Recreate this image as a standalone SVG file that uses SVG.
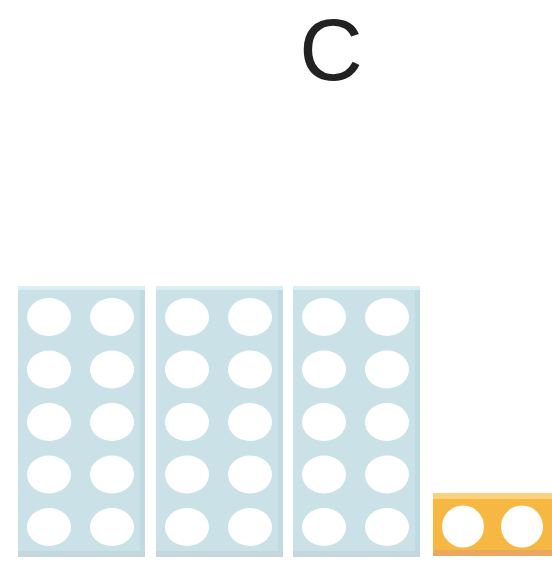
<svg xmlns="http://www.w3.org/2000/svg" width="552" height="564" viewBox="0 0 552 564">
<defs>
<style>
.frame{fill:#C9E1E7}
.ftop{fill:#DDEEF3}
.fbot{fill:#C3D7DD}
.fside{fill:#BFDAE1}
.hole{fill:#FFFFFF}
.ofr{fill:#F6B843}
.otop{fill:#FAD27E}
.obot{fill:#E8A860}
</style>
<g id="ten" >
<rect class="frame" x="0" y="0" width="127" height="271"/>
<rect class="ftop" x="0" y="0" width="127" height="4"/>
<rect class="fside" x="122" y="4" width="5" height="262"/>
<rect class="fbot" x="0" y="265" width="127" height="6"/>
<ellipse class="hole" cx="31" cy="31" rx="22" ry="19"/>
<ellipse class="hole" cx="94" cy="31" rx="22" ry="19"/>
<ellipse class="hole" cx="31" cy="83.5" rx="22" ry="19"/>
<ellipse class="hole" cx="94" cy="83.5" rx="22" ry="19"/>
<ellipse class="hole" cx="31" cy="136" rx="22" ry="19"/>
<ellipse class="hole" cx="94" cy="136" rx="22" ry="19"/>
<ellipse class="hole" cx="31" cy="188.5" rx="22" ry="19"/>
<ellipse class="hole" cx="94" cy="188.5" rx="22" ry="19"/>
<ellipse class="hole" cx="31" cy="241" rx="22" ry="19"/>
<ellipse class="hole" cx="94" cy="241" rx="22" ry="19"/>
</g>
</defs>
<g id="label">
<text x="331" y="80" font-family="Liberation Sans, Arial, sans-serif" font-size="88" fill="#222222" text-anchor="middle">C</text>
</g>
<g id="ten-frame-1"><use href="#ten" x="18" y="286"/></g>
<g id="ten-frame-2"><use href="#ten" x="156" y="286"/></g>
<g id="ten-frame-3"><use href="#ten" x="293" y="286"/></g>
<g id="two-block">
<rect class="ofr" x="433" y="493" width="119" height="63"/>
<rect class="otop" x="433" y="493" width="119" height="6"/>
<rect class="obot" x="433" y="550" width="119" height="6"/>
<circle class="hole" cx="463" cy="526.5" r="21"/>
<circle class="hole" cx="522" cy="526.5" r="21"/>
</g>
<g id="connectors"/>
</svg>
